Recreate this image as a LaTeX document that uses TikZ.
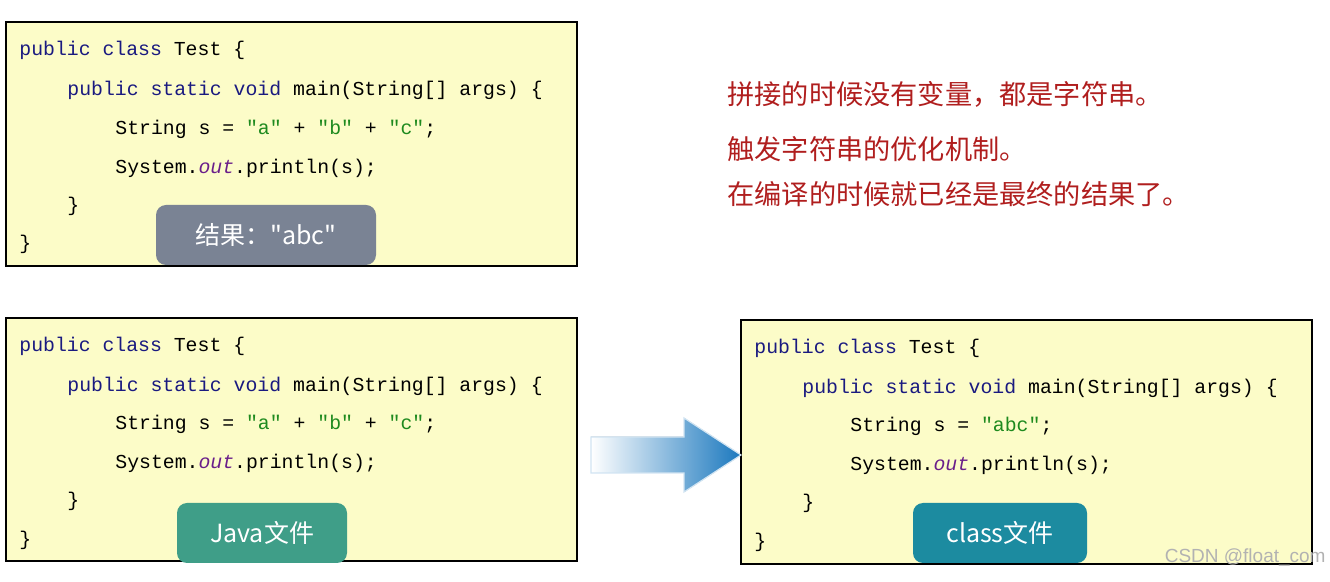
\documentclass[tikz,border=0pt]{standalone}
\usepackage{fontspec}
\setmainfont{Liberation Sans}
\setmonofont{Liberation Mono}
\newfontfamily\cjk{Noto Sans CJK SC}
\usetikzlibrary{positioning,calc}
\definecolor{codebg}{HTML}{FCFCC8}
\definecolor{kw}{HTML}{1A1A80}
\definecolor{str}{HTML}{1E8A1E}
\definecolor{fld}{HTML}{6A1F8A}
\definecolor{note}{HTML}{B01E1E}
\definecolor{badgegray}{HTML}{7A8394}
\definecolor{badgegreen}{HTML}{3F9E88}
\definecolor{badgeteal}{HTML}{1C8BA0}
\definecolor{arrowblue}{HTML}{1B78BE}
\newcommand{\kwd}[1]{\textcolor{kw}{#1}}
\newcommand{\lit}[1]{\textcolor{str}{#1}}
\newcommand{\fout}{\textcolor{fld}{\textit{out}}}

\begin{document}
\begin{tikzpicture}[x=0.5pt, y=-0.5pt,
    codebox/.style={draw=black, line width=0.8pt, fill=codebg},
    code/.style={anchor=west, inner sep=0pt, font=\ttfamily\fontsize{9.9}{11}\selectfont},
    badge/.style={rounded corners=5pt, text=white, minimum height=30pt, inner sep=0pt, font=\cjk\fontsize{12.5}{14}\selectfont},
    remark/.style={anchor=west, inner sep=0pt, text=note, font=\cjk\fontsize{13.6}{16}\selectfont}]
    \useasboundingbox (0,0) rectangle (1330,582);

    % Draw the code boxes
    \draw[codebox] (6,22) rectangle (577,266);
    \draw[codebox] (6,318) rectangle (577,561);
    \draw[codebox] (741,320) rectangle (1312,564);

    % Top box: source code
    \node[code] (a1) at (19,50) {\kwd{public class} Test \{};
    \node[code] (a2) at (67,90) {\kwd{public static void} main(String[] args) \{};
    \node[code] (a3) at (115,129) {String s = \lit{"a"} + \lit{"b"} + \lit{"c"};};
    \node[code] (a4) at (115,168) {System.\fout.println(s);};
    \node[code] (a5) at (67,206) {\}};
    \node[code] (a6) at (19,244) {\}};

    % Bottom left box: java file
    \node[code] (b1) at (19,346) {\kwd{public class} Test \{};
    \node[code] (b2) at (67,386) {\kwd{public static void} main(String[] args) \{};
    \node[code] (b3) at (115,424) {String s = \lit{"a"} + \lit{"b"} + \lit{"c"};};
    \node[code] (b4) at (115,463) {System.\fout.println(s);};
    \node[code] (b5) at (67,501) {\}};
    \node[code] (b6) at (19,540) {\}};

    % Bottom right box: class file
    \node[code] (c1) at (754,348) {\kwd{public class} Test \{};
    \node[code] (c2) at (802,388) {\kwd{public static void} main(String[] args) \{};
    \node[code] (c3) at (850,426) {String s = \lit{"abc"};};
    \node[code] (c4) at (850,465) {System.\fout.println(s);};
    \node[code] (c5) at (802,503) {\}};
    \node[code] (c6) at (754,542) {\}};

    % Badges
    \node[badge, fill=badgegray, minimum width=110pt] (res) at (266,235) {结果："abc"};
    \node[badge, fill=badgegreen, minimum width=85pt] (jav) at (262,533) {Java文件};
    \node[badge, fill=badgeteal, minimum width=87pt] (cls) at (1000,533) {class文件};

    % Remarks
    \node[remark] (r1) at (727,94) {拼接的时候没有变量，都是字符串。};
    \node[remark] (r2) at (727,149) {触发字符串的优化机制。};
    \node[remark] (r3) at (727,194) {在编译的时候就已经是最终的结果了。};

    % Compile arrow
    \coordinate (tip) at (741,455);
    \fill[left color=white, right color=arrowblue, draw=white!80!arrowblue, line width=0.6pt]
        ($(tip)+(-150,-18)$) -- ($(tip)+(-57,-18)$) -- ($(tip)+(-57,-37)$) -- (tip)
        -- ($(tip)+(-57,37)$) -- ($(tip)+(-57,18)$) -- ($(tip)+(-150,18)$) -- cycle;

    % Watermark
    \node[anchor=east, inner sep=0pt, text=gray!60, font=\fontsize{9.5}{11}\selectfont] (wm) at (1326,558) {CSDN @float\_com};
\end{tikzpicture}
\end{document}
